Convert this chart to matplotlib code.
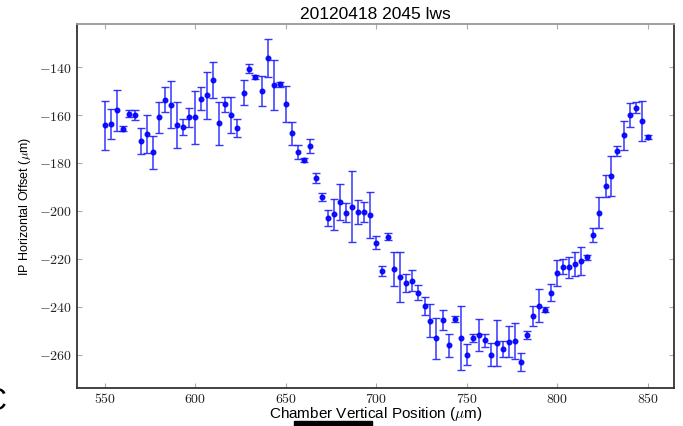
import numpy as np
import matplotlib.pyplot as plt
from matplotlib.patches import Rectangle
from matplotlib.ticker import FixedLocator, FuncFormatter

plt.rcParams['font.family'] = ['Liberation Sans', 'DejaVu Sans']
plt.rcParams['mathtext.fontset'] = 'cm'

# chamber vertical position scan (um)
position = [550.0, 553.3, 556.7, 560.0, 563.3, 566.7, 570.0, 573.3, 576.7, 580.0,
            583.3, 586.7, 590.0, 593.3, 596.7, 600.0, 603.3, 606.7, 610.0, 613.3,
            616.7, 620.0, 623.3, 626.7, 630.0, 633.3, 636.7, 640.0, 643.3, 646.7,
            650.0, 653.3, 656.7, 660.0, 663.3, 666.7, 670.0, 673.3, 676.7, 680.0,
            683.3, 686.7, 690.0, 693.3, 696.7, 700.0, 703.3, 706.7, 710.0, 713.3,
            716.7, 720.0, 723.3, 726.7, 730.0, 733.3, 736.7, 740.0, 743.3, 746.7,
            750.0, 753.3, 756.7, 760.0, 763.3, 766.7, 770.0, 773.3, 776.7, 780.0,
            783.3, 786.7, 790.0, 793.3, 796.7, 800.0, 803.3, 806.7, 810.0, 813.3,
            816.7, 820.0, 823.3, 826.7, 830.0, 833.3, 836.7, 840.0, 843.3, 846.7,
            850.0]

# IP horizontal offset (um) and its error
offset = [-164.3, -163.9, -158.0, -165.7, -159.5, -160.0, -170.8, -168.0, -175.5, -161.0,
          -153.7, -155.7, -164.2, -165.0, -161.0, -161.0, -153.3, -151.8, -145.4, -163.5,
          -155.5, -160.0, -165.5, -150.7, -140.7, -144.2, -150.0, -136.4, -147.5, -147.2,
          -155.4, -167.6, -175.5, -178.9, -172.9, -186.1, -194.0, -202.9, -201.3, -196.1,
          -200.7, -198.2, -200.5, -200.5, -201.7, -213.2, -225.0, -210.7, -224.2, -227.6,
          -230.0, -229.0, -234.0, -239.6, -245.8, -253.0, -245.4, -256.0, -244.9, -253.0,
          -259.9, -253.0, -251.7, -253.9, -259.9, -254.9, -257.5, -254.4, -254.2, -262.9,
          -251.7, -243.8, -239.4, -241.1, -234.0, -225.8, -223.2, -223.5, -222.0, -220.7,
          -219.3, -210.0, -200.7, -189.6, -185.5, -175.1, -168.5, -160.0, -157.0, -162.5,
          -169.2]

offset_err = [10.1, 6.2, 8.5, 1.0, 1.5, 2.0, 5.3, 8.0, 6.8, 6.4,
              5.2, 9.7, 9.5, 3.3, 3.9, 11.0, 4.8, 9.8, 7.4, 8.8,
              3.1, 7.6, 3.8, 5.3, 2.0, 1.0, 6.2, 7.9, 10.4, 1.0,
              7.4, 4.8, 3.0, 0.8, 3.0, 2.1, 1.7, 3.5, 6.5, 7.5,
              4.0, 14.8, 4.9, 4.2, 9.5, 2.6, 1.9, 1.4, 7.2, 10.5,
              3.8, 4.5, 3.0, 3.6, 6.9, 8.6, 4.1, 4.7, 1.2, 13.3,
              4.4, 1.7, 6.5, 2.6, 4.8, 9.5, 3.3, 6.4, 7.5, 3.6,
              1.7, 4.0, 7.0, 1.0, 3.6, 5.4, 3.1, 4.4, 5.0, 5.8,
              1.0, 3.0, 6.6, 4.5, 8.3, 2.0, 6.1, 5.1, 2.3, 8.5,
              1.0]

xticks = [550, 600, 650, 700, 750, 800, 850]
yticks = [-260, -240, -220, -200, -180, -160, -140]

fig = plt.figure(figsize=(6.83, 4.26), dpi=100)
ax = fig.add_axes([0.113, 0.0885, 0.8745, 0.855])

ax.errorbar(position, offset, yerr=offset_err, fmt='o', color='#0000ff',
            ecolor='#2020ff', elinewidth=1.1, capsize=3, capthick=1.0,
            markersize=3.3, alpha=0.9)

ax.set_xlim(534.8, 864.8)
ax.set_ylim(-273.9, -122.1)

ax.xaxis.set_major_locator(FixedLocator(xticks))
ax.yaxis.set_major_locator(FixedLocator(yticks))
# tick labels in computer modern, like a latex rendered plot
ax.xaxis.set_major_formatter(FuncFormatter(lambda v, p: r'$%d$' % v))
ax.yaxis.set_major_formatter(FuncFormatter(lambda v, p: r'$%d$' % v))
ax.tick_params(direction='in', length=3.5, width=0.8, color='#aaaaaa',
               top=True, right=True, labelsize=10, labelcolor='#222222')
ax.tick_params(axis='x', pad=3)
ax.tick_params(axis='y', pad=4)

for side in ['left', 'right', 'bottom']:
    ax.spines[side].set_color('#333333')
    ax.spines[side].set_linewidth(1.3)
ax.spines['top'].set_color('#999999')
ax.spines['top'].set_linewidth(1.3)

ax.set_title('20120418 2045 lws', fontsize=12.5, pad=4)
ax.set_xlabel(r'Chamber Vertical Position ($\mu$m)', fontsize=11, labelpad=-1)
ax.set_ylabel(r'IP Horizontal Offset ($\mu$m)', fontsize=9, labelpad=4)

# bits of the surrounding page along the edges
fig.text(6 / 683, 0.056, 'C', fontsize=22, ha='right', va='center')
fig.patches.append(Rectangle((294 / 683, 0), 78 / 683, 5 / 426,
                             transform=fig.transFigure, color='black'))

plt.savefig('out.png', dpi=100)
